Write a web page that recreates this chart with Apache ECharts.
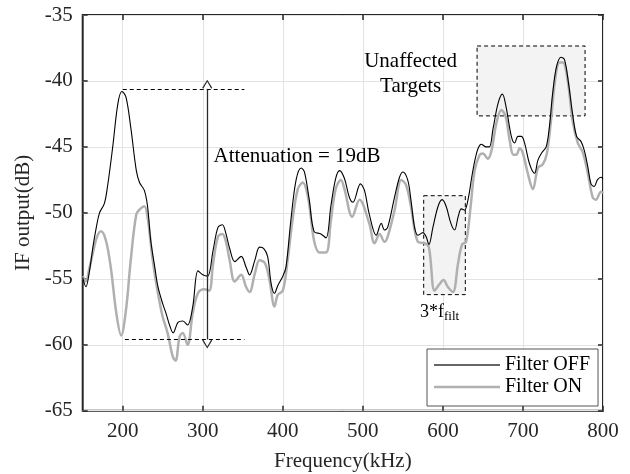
<!DOCTYPE html>
<html>
<head>
<meta charset="utf-8">
<script src="https://cdn.jsdelivr.net/npm/echarts@6/dist/echarts.min.js"></script>
<style>
  html, body { margin: 0; padding: 0; background: #fff; }
  #chart { width: 630px; height: 474px; }
</style>
</head>
<body>
<div id="chart"></div>
<script>
// IF spectrum, filter off (black) and filter on (gray)
const freqOff = [150,154,158,163,167,171,177,181,187.5,194,199,204,210,217,221,227,231,235,240,244,250,254,259,263,269,275,281,287.5,294,300,306,313,319,324.5,329,333.6,340,348,354,358.5,365,371,376,381,385.5,389.6,393.8,400,404,410,416.6,423,427,433,439,447.7,454,460,466,471,477,483,487.5,497,502,508,516.7,523,527,531,539.6,545.8,550,556,560,564.6,568.75,575,579,582.5,587.5,594,599,604,610,614.6,619,623,627,632,636,640,644,648,654,658,662.7,668.9,674.3,679,685.5,689.6,693.8,698,702,708.3,714.5,718.7,724,729,733,737,742,747.7,752,757,762,767,772.6,776.8,781,785,789,793,797.5,800];
const dbOff = [-54.9,-55.6,-54.6,-52.5,-51.1,-50.0,-49.3,-48.0,-45.0,-41.7,-40.8,-41.2,-43.5,-46.8,-47.7,-48.3,-49.5,-52.1,-54.1,-55.6,-56.9,-57.6,-58.6,-59.1,-58.3,-58.2,-58.5,-57.1,-54.4,-54.7,-54.8,-52.8,-51.1,-50.9,-51.6,-52.7,-53.7,-53.3,-54.1,-54.7,-53.6,-52.6,-52.7,-53.3,-55.4,-56.1,-55.5,-54.8,-54.1,-50.6,-47.5,-46.6,-46.9,-49.0,-51.4,-51.6,-51.9,-49.5,-47.4,-46.8,-47.4,-48.8,-49.2,-47.8,-48.3,-50.1,-51.7,-50.8,-51.3,-51.1,-48.8,-47.3,-46.9,-47.5,-49.0,-51.1,-51.7,-51.5,-51.8,-52.4,-51.1,-49.5,-49.0,-49.5,-50.8,-51.3,-50.3,-49.7,-49.8,-48.8,-47.3,-46.0,-45.1,-44.8,-45.0,-45.0,-43.6,-41.7,-41.0,-42.0,-44.2,-44.7,-44.2,-44.2,-44.7,-46.3,-47.0,-46.0,-45.4,-45.0,-43.5,-41.0,-38.9,-38.2,-38.4,-40.2,-42.5,-44.2,-44.6,-45.3,-46.5,-47.8,-48.0,-47.5,-47.3,-47.4];

const freqOn = [150,154,158,162.5,168,173,179,185,192,198,204,210,217,222,227,231,237.5,244,250,256,262.5,266,271,275,281,287.5,294,302,308,313,319,324.5,329,333.6,340,348,354,358.5,365,371,377.6,383.4,389.6,393.8,400,406,412,418.7,425,432,439,445.6,454,460,466,472.6,477,486.7,495.8,508,514.6,521,527,531,539.6,548,554,560,568.75,577,582.5,589.6,595.8,600.8,606,612.5,619,624,629,635,639.6,646,650,656,660.6,666.8,673,678.4,683.4,688,691.7,695.9,700,706,712.4,718.7,724.9,729.9,735,740,745.6,749.8,756,762,768.5,774.7,781,787,791,797.5,800];
const dbOn = [-54.8,-55.2,-54.3,-53.1,-51.8,-51.4,-52.1,-54.1,-57.6,-59.3,-57.4,-53.6,-50.1,-49.7,-49.5,-50.3,-53.6,-56.1,-57.9,-59.1,-60.9,-61.2,-59.4,-59.1,-60.0,-57.6,-56.1,-55.8,-55.9,-53.8,-51.8,-51.6,-52.2,-53.6,-55.2,-54.7,-55.6,-56.0,-54.6,-53.6,-53.8,-55.1,-57.1,-56.2,-55.9,-53.6,-50.6,-48.2,-47.7,-49.0,-52.1,-53.0,-53.0,-50.6,-48.2,-47.5,-48.2,-50.3,-49.0,-50.8,-52.3,-51.6,-52.2,-51.8,-49.8,-47.5,-47.9,-49.5,-52.2,-52.3,-52.6,-55.9,-55.4,-55.1,-55.6,-56.0,-53.8,-52.4,-52.2,-49.3,-46.8,-45.6,-45.5,-45.9,-45.3,-43.2,-42.2,-42.7,-44.5,-45.6,-45.6,-45.1,-45.5,-47.0,-48.2,-46.6,-46.3,-45.5,-43.0,-40.0,-38.6,-38.6,-40.0,-43.0,-44.7,-45.4,-47.0,-48.8,-49.0,-48.4,-48.5];

const xTicks = [200, 300, 400, 500, 600, 700, 800];
const seriesNames = ['Filter OFF', 'Filter ON'];

// attenuation annotation (dB levels, kHz positions)
const attTop = -40.6;
const attenuation = 19;
const attBottom = attTop - attenuation;
const attLineFrom = 200;
const attLineTo = 352;
const attArrowFreq = 305.6;

// shaded regions: [f1, dB1, f2, dB2]
const filtBox = [576, -48.7, 628, -56.2];
const targetBox = [642.7, -37.35, 777.6, -42.65];

const FONT = '"Liberation Serif", "Times New Roman", serif';
const INK = '#262626';

const pairs = (xs, ys) => xs.map((x, i) => [x, ys[i]]);
const chevron = 'path://M5,0 L10,8 L9,9 L5,2 L1,9 L0,8 Z M5,18 L5,18';
// flat bar used as legend key, thickness follows the series line width
const keyBar = h => 'path://M0,0 L66,0 L66,' + h + ' L0,' + h + ' Z';

const chart = echarts.init(document.getElementById('chart'), null, { renderer: 'canvas' });

const baseAxis = {
  axisLine: { show: false },
  axisTick: { show: true, inside: true, length: 5, lineStyle: { color: INK, width: 1.5 } },
  axisLabel: { show: false },
  splitLine: { show: false }
};

chart.setOption({
  animation: false,
  backgroundColor: '#fff',
  grid: {
    left: 82.7, right: 27, top: 15, bottom: 63.3,
    show: true, borderColor: INK, borderWidth: 2, backgroundColor: '#fff',
    containLabel: false, outerBoundsMode: 'none'
  },
  legend: {
    data: [
      { name: seriesNames[0], icon: keyBar(1.3) },
      { name: seriesNames[1], icon: keyBar(2.5) }
    ],
    orient: 'vertical',
    left: 427, top: 349,
    padding: [5, 8, 8, 7],
    itemWidth: 66, itemHeight: 14, itemGap: 0, itemTextGap: 6,
    symbolKeepAspect: true,
    backgroundColor: '#fff',
    borderColor: '#555', borderWidth: 1, borderRadius: 0,
    textStyle: { fontFamily: FONT, fontSize: 20, color: '#000', lineHeight: 22 }
  },
  xAxis: [
    Object.assign({}, baseAxis, {
      type: 'value', min: 150, max: 800, position: 'bottom',
      axisTick: { show: true, inside: true, length: 5, lineStyle: { color: INK, width: 1.5 }, customValues: xTicks },
      axisLabel: { show: true, customValues: xTicks, fontFamily: FONT, fontSize: 21, color: INK, margin: 10 },
      splitLine: { show: true, lineStyle: { color: '#e3e3e3', width: 1 } },
      name: 'Frequency(kHz)', nameLocation: 'middle', nameGap: 40,
      nameTextStyle: { fontFamily: FONT, fontSize: 21, color: INK }
    }),
    Object.assign({}, baseAxis, {
      type: 'value', min: 150, max: 800, position: 'top',
      axisTick: { show: true, inside: true, length: 5, lineStyle: { color: INK, width: 1.5 }, customValues: xTicks },
      axisLabel: { show: false, customValues: xTicks }
    })
  ],
  yAxis: [
    Object.assign({}, baseAxis, {
      type: 'value', min: -65, max: -35, interval: 5, position: 'left',
      axisLabel: { show: true, fontFamily: FONT, fontSize: 21, color: INK, margin: 10 },
      splitLine: { show: true, lineStyle: { color: '#e3e3e3', width: 1 } },
      name: 'IF output(dB)', nameLocation: 'middle', nameGap: 44,
      nameTextStyle: { fontFamily: FONT, fontSize: 21, color: INK }
    }),
    Object.assign({}, baseAxis, {
      type: 'value', min: -65, max: -35, interval: 5, position: 'right'
    })
  ],
  series: [
    {
      name: 'Filter ON', type: 'line', data: pairs(freqOn, dbOn),
      xAxisIndex: 0, yAxisIndex: 0,
      showSymbol: false, symbol: 'none', smooth: 0.35,
      lineStyle: { color: '#b0b0b0', width: 2.5 },
      itemStyle: { color: '#b0b0b0' },
      z: 3,
      markArea: {
        silent: true,
        itemStyle: { color: '#f3f3f3', borderColor: '#000', borderWidth: 1, borderType: [4, 3] },
        label: { show: false },
        data: [
          [{ coord: [filtBox[0], filtBox[1]] }, { coord: [filtBox[2], filtBox[3]] }],
          [{ coord: [targetBox[0], targetBox[1]] }, { coord: [targetBox[2], targetBox[3]] }]
        ]
      }
    },
    {
      name: 'Filter OFF', type: 'line', data: pairs(freqOff, dbOff),
      xAxisIndex: 0, yAxisIndex: 0,
      showSymbol: false, symbol: 'none', smooth: 0.35,
      lineStyle: { color: '#000', width: 1.1 },
      itemStyle: { color: '#333' },
      z: 4,
      markLine: {
        silent: true,
        symbol: ['none', 'none'],
        label: { show: false },
        lineStyle: { color: '#000', width: 1, type: [4, 3] },
        data: [
          [{ coord: [attLineFrom, attTop] }, { coord: [attLineTo, attTop] }],
          [{ coord: [attLineFrom + 2.7, attBottom] }, { coord: [attLineTo, attBottom] }],
          [
            { coord: [attArrowFreq, attTop], symbol: chevron, symbolSize: [10, 18],
              lineStyle: { type: 'solid', color: '#2a2a2a', width: 1.3 } },
            { coord: [attArrowFreq, attBottom], symbol: chevron, symbolSize: [10, 18] }
          ]
        ]
      }
    }
  ]
});

// text annotations, anchored in data coordinates
const notes = [
  { text: 'Attenuation = ' + attenuation + 'dB', at: [313.5, -45.7], size: 21, align: 'left' },
  { text: 'Unaffected', at: [559.7, -38.5], size: 21, align: 'center' },
  { text: 'Targets', at: [559.7, -40.4], size: 21, align: 'center' },
  { text: '3*f', at: [571.3, -57.5], size: 18, align: 'left' },
  { text: 'filt', at: [601.3, -57.85], size: 13, align: 'left' }
];

chart.setOption({
  graphic: notes.map(n => {
    const p = chart.convertToPixel({ gridIndex: 0 }, n.at);
    return {
      type: 'text', x: p[0], y: p[1], z: 100, silent: true,
      style: {
        text: n.text, fontFamily: FONT, fontSize: n.size, fill: '#000',
        align: n.align, verticalAlign: 'middle'
      }
    };
  })
});
</script>
</body>
</html>
